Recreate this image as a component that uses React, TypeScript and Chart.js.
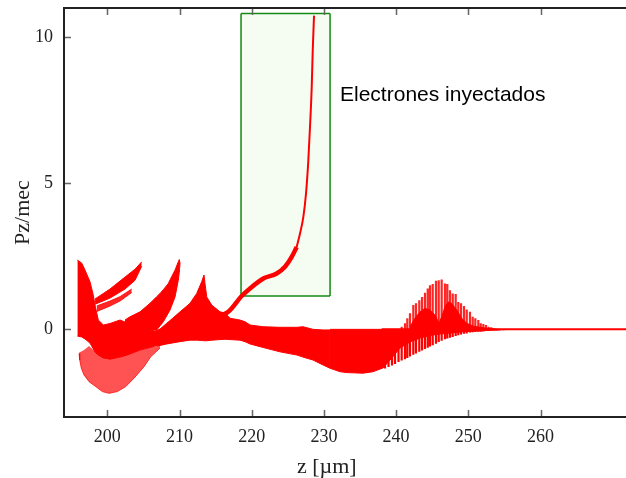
import React, { useEffect, useRef } from 'react';
import { Chart, registerables } from 'chart.js';

Chart.register(...registerables);

// ---------- axes ----------
const X_MIN = 194.0;
const X_MAX = 271.84;
const Y_MIN = -3;
const Y_MAX = 11;
const xTickValues = [200, 210, 220, 230, 240, 250, 260];
const yTickValues = [0, 5, 10];
const xTitle = 'z [µm]';
const yTitle = 'Pz/mec';
const xTitleCenter = 230.4;

// ---------- main solid band (left part, incl. left spike and the 212 µm spike) ----------
const bandX = [195.85, 196.45, 196.91, 197.60, 198.06, 198.30, 198.75, 199.45, 200.37, 201.76, 202.45, 203.14, 204.53, 205.91, 206.61, 207.30, 208.23, 208.68, 210.07, 211.45, 212.38, 213.07, 213.39, 213.53, 213.77, 214.46, 215.61, 216.30, 216.99, 218.38, 219.07, 219.76, 221.57, 223.92, 226.27, 227.11, 228.49, 229.88, 230.84];
const bandUpper = [2.37, 2.27, 2.03, 1.63, 1.17, 0.83, 0.32, 0.15, 0.20, 0.32, 0.25, 0.15, 0.04, -0.02, -0.06, 0.01, 0.21, 0.30, 0.60, 0.89, 1.23, 1.63, 1.86, 1.57, 1.11, 0.83, 0.60, 0.56, 0.38, 0.32, 0.26, 0.15, 0.09, 0.07, 0.07, 0.09, 0.00, -0.02, -0.02];
const bandLower = [-0.23, -0.26, -0.33, -0.47, -0.67, -0.78, -0.88, -0.98, -1.02, -0.95, -0.90, -0.84, -0.71, -0.62, -0.57, -0.55, -0.50, -0.48, -0.42, -0.37, -0.37, -0.38, -0.39, -0.39, -0.39, -0.37, -0.35, -0.34, -0.35, -0.37, -0.42, -0.50, -0.62, -0.77, -0.88, -0.95, -1.05, -1.22, -1.33];

// ---------- middle spike (~209 µm) ----------
const midX = [202.45, 203.14, 204.53, 205.91, 206.84, 207.30, 207.76, 208.45, 208.68, 209.38, 209.83, 209.97, 210.07];
const midUpper = [0.32, 0.43, 0.60, 0.89, 1.12, 1.23, 1.36, 1.57, 1.69, 2.03, 2.31, 2.39, 2.26];
const midLower = [-0.02, -0.02, -0.02, -0.02, -0.02, 0.12, 0.26, 0.56, 0.66, 1.11, 1.68, 1.96, 2.26];

// ---------- thin stripes from the left spike ----------
const stripe1X = [198.30, 200.37, 202.45, 203.84, 204.76];
const stripe1Upper = [1.04, 1.38, 1.79, 2.06, 2.31];
const stripe1Lower = [0.86, 1.07, 1.38, 1.68, 2.16];
const stripe2X = [198.53, 200.37, 201.76, 203.38];
const stripe2Upper = [0.80, 0.97, 1.12, 1.38];
const stripe2Lower = [0.61, 0.80, 0.97, 1.26];

// ---------- dotted (sparse) region below, 196-207 µm ----------
const meshX = [196.08, 196.18, 196.40, 196.77, 197.47, 198.39, 199.31, 200.24, 201.39, 202.55, 203.70, 205.08, 206.01, 207.30];
const meshUpper = [-0.79, -0.78, -0.76, -0.71, -0.57, -0.78, -0.91, -0.98, -0.95, -0.88, -0.74, -0.67, -0.61, -0.55];
const meshLower = [-0.83, -1.05, -1.33, -1.56, -1.79, -1.96, -2.13, -2.19, -2.13, -1.96, -1.67, -1.28, -0.94, -0.64];

// ---------- negative band 231-254 µm ----------
const tailX = [230.84, 232.23, 233.20, 235.42, 236.80, 238.19, 239.16, 240.54, 241.93, 243.31, 244.70, 246.08, 247.47, 248.85, 250.24, 251.62, 253.01, 254.39];
const tailUpper = [0, 0, 0, 0, 0, 0, 0, 0, 0, 0, 0, 0, 0, 0, 0, 0, 0, 0];
const tailLower = [-1.33, -1.45, -1.48, -1.50, -1.45, -1.32, -1.05, -0.64, -0.43, -0.30, -0.21, -0.16, -0.13, -0.09, -0.07, -0.05, -0.03, -0.02];

// ---------- oscillation spikes 238-255 µm ----------
const spikeX = [238.46, 238.95, 239.43, 239.85, 240.33, 240.77, 241.23, 241.55, 241.92, 242.38, 242.75, 243.21, 243.59, 244.00, 244.38, 244.69, 245.07, 245.52, 245.90, 246.31, 246.77, 247.09, 247.46, 247.84, 248.25, 248.61, 248.99, 249.40, 249.78, 250.23, 250.61, 250.97, 251.38, 251.72, 252.08, 252.45, 252.82, 253.18, 253.56, 253.93, 254.39, 254.85];
const spikeTop = [0, 0, 0, 0, 0, 0.09, 0.21, 0.38, 0.55, 0.83, 0.89, 1.00, 1.11, 1.25, 1.40, 1.51, 1.55, 1.66, 1.68, 1.71, 1.57, 1.55, 1.34, 1.23, 1.21, 0.94, 0.89, 0.80, 0.68, 0.60, 0.43, 0.38, 0.32, 0.21, 0.18, 0.15, 0.09, 0.07, 0.04, 0.02, 0.01, 0.00];
const spikeBottom = [-1.34, -1.29, -1.24, -1.19, -1.12, -1.07, -1.02, -0.98, -0.93, -0.87, -0.83, -0.77, -0.72, -0.67, -0.63, -0.59, -0.54, -0.49, -0.43, -0.39, -0.34, -0.31, -0.29, -0.26, -0.23, -0.20, -0.18, -0.15, -0.14, -0.11, -0.10, -0.09, -0.08, -0.08, -0.07, -0.06, -0.06, -0.05, -0.04, -0.04, -0.03, -0.03];

// dense core between the spikes
const humpX = [241.92, 242.61, 243.31, 244.00, 244.69, 245.38, 245.94, 246.31, 246.77, 247.23, 247.70, 248.39, 249.08, 249.78, 250.69, 251.62, 253.46];
const humpTop = [0.09, 0.38, 0.60, 0.72, 0.66, 0.49, 0.21, 0.43, 0.77, 0.94, 0.89, 0.66, 0.38, 0.21, 0.11, 0.07, 0.01];
const humpBase = [0, 0, 0, 0, 0, 0, 0, 0, 0, 0, 0, 0, 0, 0, 0, 0, 0];

// flat line at zero ahead of the pulse
const zeroLineX = [238.0, 271.84];
const zeroLineY = [0, 0];

// ---------- injected electrons ----------
const curveThickX = [214.64, 216.76, 218.61, 219.76, 221.61, 223.46, 224.61, 225.54, 226.23];
const curveThickY = [0.39, 0.60, 1.14, 1.40, 1.74, 1.91, 2.14, 2.48, 2.82];
const curveThinX = [226.23, 226.69, 227.15, 227.52, 227.84, 228.07, 228.31, 228.45, 228.63];
const curveThinY = [2.82, 3.28, 3.85, 4.65, 5.78, 6.92, 8.29, 9.54, 10.74];

// ---------- annotation ----------
const boxX = [218.52, 230.85];
const boxY = [1.14, 10.81];
const labelText = 'Electrones inyectados';
const labelX = 232.23;
const labelY = 7.83;

const RED = '#ff0000';
const GREEN = '#138a13';

const pts = (xs: number[], ys: (number | null)[]) => xs.map((x, i) => ({ x, y: ys[i] }));

function buildSpikes(xs: number[], ends: number[]) {
  const out: { x: number; y: number | null }[] = [];
  xs.forEach((x, i) => {
    if (ends[i] !== 0) {
      out.push({ x, y: 0 }, { x, y: ends[i] }, { x, y: null });
    }
  });
  return out;
}

const framePlugin = {
  id: 'framePlugin',
  afterDraw(chart: any) {
    const { ctx, chartArea: a, scales } = chart;
    const sx = scales.x;
    const sy = scales.y;
    ctx.save();
    // ticks (inward)
    ctx.strokeStyle = '#666';
    ctx.lineWidth = 1.5;
    ctx.beginPath();
    xTickValues.forEach((v) => {
      const px = Math.round(sx.getPixelForValue(v)) + 0.5;
      ctx.moveTo(px, a.bottom);
      ctx.lineTo(px, a.bottom - 7);
      ctx.moveTo(px, a.top);
      ctx.lineTo(px, a.top + 7);
    });
    yTickValues.forEach((v) => {
      const py = Math.round(sy.getPixelForValue(v)) + 0.5;
      ctx.moveTo(a.left, py);
      ctx.lineTo(a.left + 7, py);
    });
    ctx.stroke();
    // frame
    ctx.strokeStyle = '#222';
    ctx.lineWidth = 2;
    ctx.beginPath();
    ctx.moveTo(a.right + 2, a.top);
    ctx.lineTo(a.left, a.top);
    ctx.lineTo(a.left, a.bottom);
    ctx.lineTo(a.right + 2, a.bottom);
    ctx.stroke();

    // annotation text
    ctx.fillStyle = '#000';
    ctx.font = '21px "Liberation Sans", Arial, sans-serif';
    ctx.textAlign = 'left';
    ctx.textBaseline = 'alphabetic';
    ctx.fillText(labelText, sx.getPixelForValue(labelX), sy.getPixelForValue(labelY));

    // axis titles
    ctx.fillStyle = '#222';
    ctx.font = '22px "Liberation Serif", "Times New Roman", serif';
    ctx.textAlign = 'center';
    ctx.textBaseline = 'middle';
    ctx.fillText(xTitle, sx.getPixelForValue(xTitleCenter), 467);
    ctx.translate(23, (a.top + a.bottom) / 2);
    ctx.rotate(-Math.PI / 2);
    ctx.fillText(yTitle, 0, 0);
    ctx.restore();
  },
};

export default function App() {
  const ref = useRef<HTMLCanvasElement | null>(null);

  useEffect(() => {
    document.body.style.margin = '0';
    const canvas = ref.current;
    if (!canvas) return;

    const solid = (data: any, extra: any = {}) => ({
      data,
      borderColor: RED,
      borderWidth: 1,
      backgroundColor: RED,
      pointRadius: 0,
      tension: 0,
      fill: false,
      order: 2,
      ...extra,
    });

    const datasets: any[] = [
      // injected electrons (top)
      { data: pts(curveThinX, curveThinY), borderColor: RED, borderWidth: 2, pointRadius: 0, cubicInterpolationMode: 'monotone', fill: false, order: 0 },
      { data: pts(curveThickX, curveThickY), borderColor: RED, borderWidth: 4.5, pointRadius: 0, cubicInterpolationMode: 'monotone', fill: false, order: 0 },
      // main band
      solid(pts(bandX, bandUpper), { fill: '+1' }),
      solid(pts(bandX, bandLower)),
      // middle spike
      solid(pts(midX, midUpper), { fill: '+1' }),
      solid(pts(midX, midLower)),
      // stripes
      solid(pts(stripe1X, stripe1Upper), { fill: '+1' }),
      solid(pts(stripe1X, stripe1Lower)),
      solid(pts(stripe2X, stripe2Upper), { fill: '+1', backgroundColor: 'rgba(255,0,0,0.85)', borderColor: 'rgba(255,0,0,0.85)' }),
      solid(pts(stripe2X, stripe2Lower), { borderColor: 'rgba(255,0,0,0.85)' }),
      // negative band
      solid(pts(tailX, tailUpper), { fill: '+1' }),
      solid(pts(tailX, tailLower)),
      // dense core
      solid(pts(humpX, humpTop), { fill: '+1' }),
      solid(pts(humpX, humpBase)),
      // spikes
      { data: buildSpikes(spikeX, spikeTop), borderColor: 'rgba(255,0,0,0.85)', borderWidth: 2.2, pointRadius: 0, fill: false, spanGaps: false, order: 2 },
      { data: buildSpikes(spikeX, spikeBottom), borderColor: RED, borderWidth: 2.2, pointRadius: 0, fill: false, spanGaps: false, order: 2 },
      { data: pts(zeroLineX, zeroLineY), borderColor: RED, borderWidth: 2, pointRadius: 0, fill: false, order: 2 },
      // sparse region
      solid(pts(meshX, meshUpper), { fill: '+1', backgroundColor: 'rgba(255,0,0,0.68)', borderWidth: 0, order: 3 }),
      solid(pts(meshX, meshLower), { borderColor: 'rgba(255,0,0,0.75)', borderWidth: 1, order: 3 }),
      // box
      { data: [{ x: boxX[0], y: boxY[1] }, { x: boxX[1], y: boxY[1] }], borderColor: GREEN, borderWidth: 1.5, backgroundColor: '#f5fdf3', pointRadius: 0, fill: '+1', order: 6 },
      { data: [{ x: boxX[0], y: boxY[0] }, { x: boxX[1], y: boxY[0] }], borderColor: GREEN, borderWidth: 1.5, pointRadius: 0, fill: false, order: 5 },
      { data: [{ x: boxX[0], y: boxY[0] }, { x: boxX[0], y: boxY[1] }, { x: boxX[0], y: null }, { x: boxX[1], y: boxY[0] }, { x: boxX[1], y: boxY[1] }], borderColor: GREEN, borderWidth: 1.5, pointRadius: 0, fill: false, spanGaps: false, order: 5 },
    ];

    const chart = new Chart(canvas, {
      type: 'line',
      data: { datasets },
      options: {
        animation: false,
        responsive: false,
        events: [],
        layout: { padding: { top: 8, right: 0, left: 0, bottom: 0 } },
        plugins: { legend: { display: false }, tooltip: { enabled: false }, title: { display: false } },
        elements: { point: { radius: 0 } },
        scales: {
          x: {
            type: 'linear',
            min: X_MIN,
            max: X_MAX,
            grid: { display: false, drawTicks: false },
            border: { display: false },
            afterBuildTicks: (axis: any) => {
              axis.ticks = xTickValues.map((v) => ({ value: v }));
            },
            afterFit: (axis: any) => {
              axis.height = 61;
              axis.paddingLeft = 0;
              axis.paddingRight = 0;
            },
            ticks: {
              autoSkip: false,
              maxRotation: 0,
              padding: 9,
              color: '#222',
              font: { family: '"Liberation Serif", "Times New Roman", serif', size: 18 },
              callback: (v: any) => String(v),
            },
          },
          y: {
            type: 'linear',
            min: Y_MIN,
            max: Y_MAX,
            grid: { display: false, drawTicks: false },
            border: { display: false },
            afterBuildTicks: (axis: any) => {
              axis.ticks = yTickValues.map((v) => ({ value: v }));
            },
            afterFit: (axis: any) => {
              axis.width = 64;
              axis.paddingTop = 0;
              axis.paddingBottom = 0;
            },
            ticks: {
              padding: 11,
              color: '#222',
              font: { family: '"Liberation Serif", "Times New Roman", serif', size: 18 },
              callback: (v: any) => String(v),
            },
          },
        },
      },
      plugins: [framePlugin],
    });

    return () => {
      chart.destroy();
    };
  }, []);

  return (
    <div style={{ position: 'fixed', left: 0, top: 0, width: 626, height: 478, background: '#fff' }}>
      <canvas ref={ref} width={626} height={478} style={{ display: 'block' }} />
    </div>
  );
}
